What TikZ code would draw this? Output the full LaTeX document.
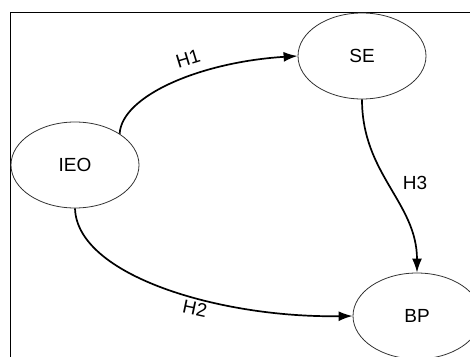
\documentclass[tikz,border=0pt]{standalone}
\usepackage{fontspec}
\setmainfont{Liberation Sans}
\usetikzlibrary{arrows.meta,shapes.geometric}

\tikzset{
  construct/.style={ellipse,draw=black!80,line width=0.8pt,minimum width=128pt,minimum height=86pt,inner sep=0pt,font=\fontsize{19}{21}\selectfont},
  path/.style={line width=1.7pt,-{Latex[length=14pt,width=10pt]}},
  hyp/.style={font=\fontsize{19}{21}\selectfont,inner sep=0pt}
}

\begin{document}
\begin{tikzpicture}[x=1pt,y=1pt]
\useasboundingbox (0,0) rectangle (470,356);
\clip (0,0) rectangle (470,356);
\draw[line width=0.9pt] (10,-20) rectangle (490,344);
% constructs
\node[construct] (ieo) at (75,191) {IEO};
\node[construct] (se) at (362,300) {SE};
\node[construct] (bp) at (417,40) {BP};
% hypotheses
\draw[path] (ieo.35) .. controls +(2,38) and +(-97,-6) .. (se.west);
\draw[path] (ieo.south) .. controls +(2,-67) and +(-133,-2) .. (bp.west);
\draw[path] (se.south) .. controls +(0,-75) and +(0,70) .. (bp.north);
\node[hyp,rotate=17] (h1) at (188,297) {H1};
\node[hyp,rotate=-12] (h2) at (195,47) {H2};
\node[hyp] (h3) at (415,173) {H3};
\end{tikzpicture}
\end{document}
